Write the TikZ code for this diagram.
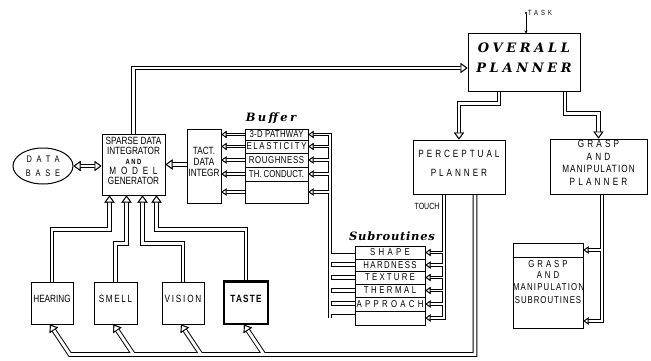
\documentclass[tikz,border=0pt]{standalone}
\usepackage{fontspec}
\setmainfont{Liberation Sans}
\newfontfamily\lab[FakeStretch=0.78]{Liberation Sans}
\newfontfamily\labB[FakeStretch=0.78,LetterSpace=28]{Liberation Sans}
\newfontfamily\ttlfont{DejaVu Serif}
\newfontfamily\ttlsp[LetterSpace=28]{DejaVu Serif}
\usetikzlibrary{arrows.meta,fit,shapes.geometric,calc,backgrounds}
\newcommand\lsp[2]{{\addfontfeatures{LetterSpace=#1}#2}}

\newcommand\pipework[3]{%
 % big pipes
 \draw[#1,bt] (sdi.north) |- ([yshift=-5pt]overall.west);
 \draw[#1,bt] ([xshift=-25pt]overall.south) -- ++(0,11) -| (perc.north);
 \draw[#1,bt] ([xshift=41pt]overall.south) -- ++(0,21) -| (gplan.north);
 \draw[#1,btt] (db.east) -- (db.east -| sdi.west);
 \draw[#1,bt] (sdi.east -| tact.west) -- (sdi.east);
 \draw[#1,bt] (hearing.north) |- ($(sdi.south west)+(8,34)$) -- ($(sdi.south west)+(8,0)$);
 \draw[#1,bt] (smell.north) |- ($(sdi.south west)+(25,48)$) -- ($(sdi.south west)+(25,0)$);
 \draw[#1,bt] (vision.north) |- ($(sdi.south west)+(41,48)$) -- ($(sdi.south west)+(41,0)$);
 \draw[#1,bt] (taste.north) |- ($(sdi.south west)+(55,34)$) -- ($(sdi.south west)+(55,0)$);
 \draw[#1,bt] (ploop) |- ($(hearing.south)+(18,30)$) -- ([xshift=-2pt]hearing.south);
 \foreach \nn in {smell,vision,taste}{\draw[#1,bt] ($(\nn.south)+(18,30)$) -- ([xshift=-2pt]\nn.south);}
 % small pipes
 \foreach \rr in {r1,r2,r3,r4,r5}{\draw[#2,st] (buffer.west |- \rr) -- (tact.east |- \rr);}
 \draw[#2,st] (bbus |- s6) -- (bbus |- r1) -- (buffer.east |- r1);
 \foreach \rr in {r2,r3,r4,r5}{\draw[#2,st] (bbus |- \rr) -- (buffer.east |- \rr);}
 \draw[#2,st] (tbus) |- (sub.east |- s6);
 \foreach \rr in {s1,s2,s3,s4,s5}{\draw[#2,st] (tbus |- \rr) -- (sub.east |- \rr);}
 \draw[#2,st] (gbus) |- (gsub.east |- g2);
 \draw[#2,st] (gbus |- g1) -- (gsub.east |- g1);
 % wide pipes
 \foreach \yy in {258,271,284,297,310}{\draw[#3] (bbus |- 0,\yy) -- (sub.west |- 0,\yy);}
}

\begin{document}
\begin{tikzpicture}[x=1pt,y=-1pt,line join=miter,
  box/.style={draw,line width=1pt,inner sep=0pt,align=center,
     font=\lab\fontsize{10.5}{11}\selectfont},
  rowlab/.style={inner sep=0pt,font=\lab\fontsize{10}{10}\selectfont},
  ttl/.style={inner sep=0pt,font=\ttlfont\bfseries\itshape\fontsize{11.5}{12}\selectfont},
  bO/.style={line width=4.8pt,draw=black},
  bI/.style={line width=2.9pt,draw=white},
  sO/.style={line width=3.4pt,draw=black},
  sI/.style={line width=1.7pt,draw=white},
  wO/.style={line width=10pt,draw=black},
  wI/.style={line width=8.2pt,draw=white},
  bt/.style={-{Triangle[length=7pt,width=10pt,line width'=0.9pt,color=black,fill=white]}},
  st/.style={-{Triangle[length=5pt,width=7pt,line width'=0.8pt,color=black,fill=white]}},
  btt/.style={{Triangle[length=7pt,width=10pt,line width'=0.9pt,color=black,fill=white]}-{Triangle[length=7pt,width=10pt,line width'=0.9pt,color=black,fill=white]}},
]
\useasboundingbox (0,0) rectangle (651,361);

% planners
\node[box,fit={(468,34) (580,92)},font=\ttlsp\bfseries\itshape\fontsize{13}{20}\selectfont] (overall) {OVERALL\\PLANNER};
\node[box,fit={(413,140) (505,194)},font=\labB\fontsize{10.5}{19}\selectfont] (perc) {PERCEPTUAL\\PLANNER};
\node[box,fit={(550,139) (647,194)},font=\lab\fontsize{10.5}{12.5}\selectfont] (gplan) {\lsp{30}{GRASP}\\\lsp{30}{AND}\\\lsp{10}{MANIPULATION}\\\lsp{30}{PLANNER}};
\node[box,fit={(513,243) (583,328)},font=\lab\fontsize{10}{11.5}\selectfont] (gsub) {\lsp{30}{GRASP}\\\lsp{30}{AND}\\\lsp{12}{MANIPULATION}\\[2pt]\lsp{10}{SUBROUTINES}};
\draw[line width=1pt] (gsub.west |- 0,257) -- (gsub.east |- 0,257);

% task
\node[inner sep=0pt,font=\lab\fontsize{7.5}{7.5}\selectfont] (task) at (540,13) {\lsp{40}{TASK}};
\coordinate (taskpt) at (526,12);
\draw[line width=0.8pt,{Circle[length=2pt]}-{Stealth[length=3pt,width=3pt]}] (taskpt) -- (taskpt |- overall.north);

% data side
\node[draw,ellipse,line width=1pt,inner sep=0pt,minimum width=60pt,minimum height=36pt,align=center,font=\lab\fontsize{9.5}{14}\selectfont] (db) at (43,166) {\lsp{50}{DATA}\\\lsp{50}{BASE}};
\node[box,fit={(102,134) (165,195)},font=\lab\fontsize{10.5}{10}\selectfont] (sdi) {SPARSE DATA\\INTEGRATOR\\{\bfseries\fontsize{7.5}{10}\selectfont\lsp{20}{AND}}\\\lsp{45}{MODEL}\\GENERATOR};
\node[box,fit={(187,129) (221,203)}] (tact) {TACT.\\DATA\\INTEGR};

% buffer
\node[ttl,font=\ttlfont\bfseries\itshape\fontsize{11.5}{12}\selectfont\addfontfeatures{LetterSpace=20}] (buftitle) at (271,118) {Buffer};
\node[box,fit={(245,129) (308,203)}] (buffer) {};
\foreach \yy in {140,153,167,181}{\draw[line width=0.9pt] (buffer.west |- 0,\yy) -- (buffer.east |- 0,\yy);}
\node[rowlab] (r1) at (276.5,134.5) {\lsp{3}{3-D PATHWAY}};
\node[rowlab] (r2) at (276.5,146.5) {\lsp{17}{ELASTICITY}};
\node[rowlab] (r3) at (276.5,160) {\lsp{6}{ROUGHNESS}};
\node[rowlab] (r4) at (276.5,174) {TH. CONDUCT.};
\coordinate (r5) at (276.5,192);

% subroutines
\node[ttl,font=\ttlfont\bfseries\itshape\fontsize{11.5}{12}\selectfont\addfontfeatures{LetterSpace=6}] (subtitle) at (392,236) {Subroutines};
\node[box,fit={(355,246) (425,325)}] (sub) {};
\foreach \yy in {259,271,284,297,311}{\draw[line width=0.9pt] (sub.west |- 0,\yy) -- (sub.east |- 0,\yy);}
\node[rowlab] (s1) at (390,252.5) {\lsp{33}{SHAPE}};
\node[rowlab] (s2) at (390,265) {\lsp{14}{HARDNESS}};
\node[rowlab] (s3) at (390,277.5) {\lsp{22}{TEXTURE}};
\node[rowlab] (s4) at (390,290.5) {\lsp{25}{THERMAL}};
\node[rowlab] (s5) at (390,304) {\lsp{33}{APPROACH}};
\coordinate (s6) at (390,318);

\node[inner sep=0pt,font=\lab\fontsize{9}{9}\selectfont] (touch) at (427,206) {TOUCH};

% sensors
\node[box,fit={(31,282) (73,324)}] (hearing) {HEARING};
\node[box,fit={(94,282) (137,324)}] (smell) {\lsp{15}{SMELL}};
\node[box,fit={(162,282) (204,324)}] (vision) {\lsp{17}{VISION}};
\node[box,fit={(224,282) (268,324)},line width=1.3pt] (taste) {{\bfseries\lsp{12}{TASTE}}};
\draw[line width=2.2pt] (taste.north west) -- (taste.north east);

% bus coordinates
\coordinate (ploop) at ([xshift=16pt]perc.south);
\coordinate (tbus) at ([xshift=-15pt]perc.south);
\coordinate (gbus) at ([xshift=3.5pt]gplan.south);
\coordinate (bbus) at (330,134);
\coordinate (g1) at (548,250);
\coordinate (g2) at (548,321);

\begin{scope}[on background layer]
\pipework{bO}{sO}{wO}
\pipework{bI}{sI}{wI}
\end{scope}
\end{tikzpicture}
\end{document}
